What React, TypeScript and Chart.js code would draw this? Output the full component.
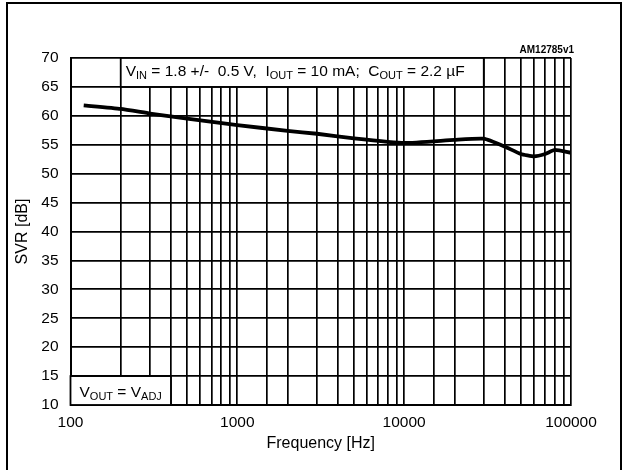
import React, { useEffect, useRef } from "react";
import { Chart, registerables } from "chart.js";

Chart.register(...registerables);

// ---- data ----
const frequencies = [120, 200, 300, 500, 1000, 2000, 3000, 5000, 10000, 20000, 30000, 40000, 50000, 60000, 70000, 80000, 100000];
const svrValues = [61.8, 61.2, 60.4, 59.5, 58.4, 57.4, 56.9, 56.1, 55.3, 55.85, 56.05, 54.7, 53.4, 53.0, 53.4, 54.1, 53.6];
const xLabelTicks = [100, 1000, 10000, 100000];
const yMin = 10;
const yMax = 70;
const yStep = 5;
const xTitle = "Frequency [Hz]";
const yTitle = "SVR [dB]";
const codeLabel = "AM12785v1";
// annotation boxes in data units: [text, isSubscript][]
const topNote = {
  x0: 200, x1: 30000, y0: 65, y1: 70,
  parts: [["V", false], ["IN", true], [" = 1.8 +/-  0.5 V,  I", false], ["OUT", true], [" = 10 mA;  C", false], ["OUT", true], [" = 2.2 µF", false]] as [string, boolean][],
};
const bottomNote = {
  x0: 100, x1: 400, y0: 10, y1: 15,
  parts: [["V", false], ["OUT", true], [" = V", false], ["ADJ", true]] as [string, boolean][],
};

const FONT = "'Liberation Sans', Arial, Helvetica, sans-serif";

const isPow10 = (v: number) => Math.abs(Math.log10(v) - Math.round(Math.log10(v))) < 1e-9;

const annotationPlugin = {
  id: "notes",
  beforeDatasetsDraw(chart: any) {
    const { ctx, scales } = chart;
    const xs = scales.x, ys = scales.y;
    const drawBox = (n: typeof topNote, baseOff: number, padX: number) => {
      const l = xs.getPixelForValue(n.x0), r = xs.getPixelForValue(n.x1);
      const t = ys.getPixelForValue(n.y1), b = ys.getPixelForValue(n.y0);
      ctx.save();
      ctx.fillStyle = "#fff";
      ctx.fillRect(l, t, r - l, b - t);
      ctx.strokeStyle = "#000";
      ctx.lineWidth = 1.8;
      ctx.strokeRect(l, t, r - l, b - t);
      ctx.fillStyle = "#000";
      ctx.textBaseline = "alphabetic";
      let x = l + padX;
      const y = b - baseOff;
      for (const [txt, sub] of n.parts) {
        ctx.font = sub ? `11px ${FONT}` : `15.5px ${FONT}`;
        ctx.fillText(txt, x, sub ? y + 3 : y);
        x += ctx.measureText(txt).width;
      }
      ctx.restore();
    };
    drawBox(topNote, 11, 5);
    drawBox(bottomNote, 8, 9);
  },
  afterDraw(chart: any) {
    const { ctx, chartArea } = chart;
    ctx.save();
    ctx.fillStyle = "#000";
    ctx.font = `bold 10px ${FONT}`;
    ctx.textAlign = "right";
    ctx.textBaseline = "alphabetic";
    ctx.fillText(codeLabel, chartArea.right + 3, chartArea.top - 5);
    // outer frame
    ctx.strokeStyle = "#000";
    ctx.lineWidth = 2;
    ctx.beginPath();
    ctx.moveTo(7, 470);
    ctx.lineTo(7, 3);
    ctx.lineTo(621, 3);
    ctx.lineTo(621, 470);
    ctx.stroke();
    ctx.restore();
  },
};

export default function App() {
  const ref = useRef<HTMLCanvasElement | null>(null);
  useEffect(() => {
    if (!ref.current) return;
    const chart = new Chart(ref.current, {
      type: "line",
      data: {
        datasets: [
          {
            data: frequencies.map((f, i) => ({ x: f, y: svrValues[i] })),
            borderColor: "#000",
            borderWidth: 3.8,
            pointRadius: 0,
            tension: 0.15,
            fill: false,
          },
        ],
      },
      options: {
        animation: false,
        responsive: false,
        devicePixelRatio: 1,
        layout: { padding: { left: 0, top: 58, right: 51, bottom: 0 } },
        plugins: { legend: { display: false }, tooltip: { enabled: false } },
        scales: {
          x: {
            type: "logarithmic",
            min: 100,
            max: 100000,
            afterFit: (s: any) => { s.height = 65; },
            grid: { color: "#000", lineWidth: 1.7, drawTicks: false },
            border: { display: true, color: "#000", width: 2 },
            ticks: {
              autoSkip: false,
              maxRotation: 0,
              padding: 8,
              color: "#000",
              font: { family: FONT, size: 15.5 },
              callback: (v: any) => (xLabelTicks.includes(Number(v)) && isPow10(Number(v)) ? String(v) : ""),
            },
            title: { display: true, text: xTitle, color: "#000", font: { family: FONT, size: 16 }, padding: { top: 0, bottom: 17 } },
          },
          y: {
            type: "linear",
            min: yMin,
            max: yMax,
            afterFit: (s: any) => { s.width = 70.5; },
            grid: { color: "#000", lineWidth: 1.7, drawTicks: false },
            border: { display: true, color: "#000", width: 2 },
            ticks: { stepSize: yStep, padding: 12, color: "#000", font: { family: FONT, size: 15.5 } },
            title: { display: true, text: yTitle, color: "#000", font: { family: FONT, size: 16 }, padding: { top: 13, bottom: 0 } },
          },
        },
      },
      plugins: [annotationPlugin],
    });
    return () => chart.destroy();
  }, []);
  return (
    <div style={{ position: "absolute", left: 0, top: 0, width: 622, height: 470, background: "#fff" }}>
      <canvas ref={ref} width={622} height={470} style={{ display: "block" }} />
    </div>
  );
}
